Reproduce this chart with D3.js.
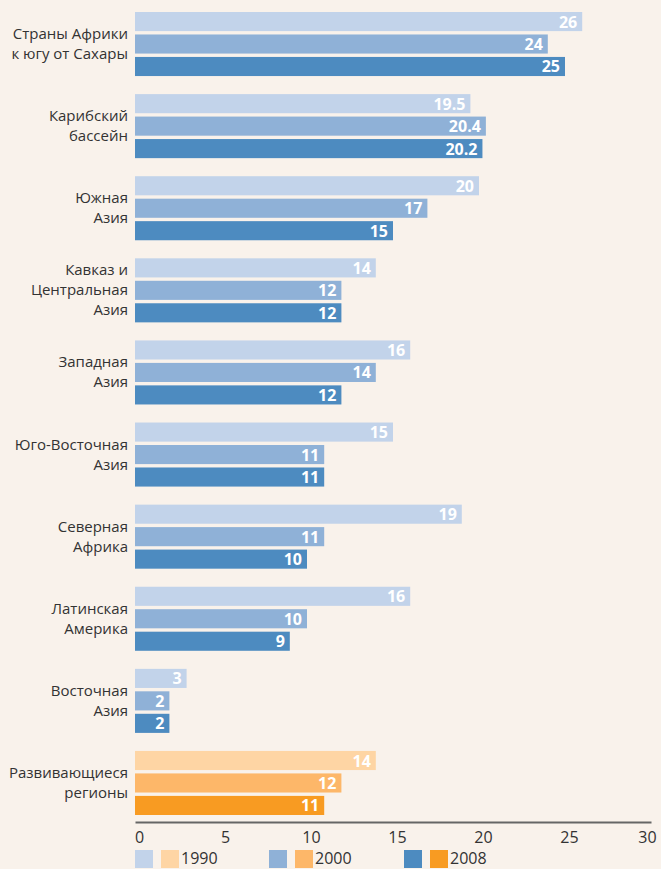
<!DOCTYPE html>
<html>
<head>
<meta charset="utf-8">
<script src="https://cdn.jsdelivr.net/npm/d3@7"></script>
<style>
  body { margin: 0; background: #f9f2eb; }
  svg { display: block; }
</style>
</head>
<body>
<svg id="chart" width="661" height="869"></svg>
<script>
// data
var regions = ["Страны Африки\nк югу от Сахары", "Карибский\nбассейн", "Южная\nАзия",
    "Кавказ и\nЦентральная\nАзия", "Западная\nАзия", "Юго-Восточная\nАзия", "Северная\nАфрика",
    "Латинская\nАмерика", "Восточная\nАзия", "Развивающиеся\nрегионы"]
var years = ["1990", "2000", "2008"]
var v1990 = [26, 19.5, 20, 14, 16, 15, 19, 16, 3, 14]
var v2000 = [24, 20.4, 17, 12, 14, 11, 11, 10, 2, 12]
var v2008 = [25, 20.2, 15, 12, 12, 11, 10, 9, 2, 11]
var xTicks = [0, 5, 10, 15, 20, 25, 30]

var blues = ["#c2d3ea", "#8fb1d7", "#4d8bc0"]
var oranges = ["#fed5a4", "#fdb769", "#f89b22"]

var svg = d3.select("#chart")

var x = d3.scaleLinear().domain([0, 30]).range([135, 651])

var y = d3.scaleBand()
    .domain(d3.range(regions.length))
    .range([12, 815])
    .paddingInner(0.22)
    .paddingOuter(0)

var yInner = d3.scaleBand()
    .domain(years)
    .range([0, y.bandwidth()])
    .paddingInner(0.15)

var rows = regions.map(function(r, i) {
    return {name: r, i: i, values: [v1990[i], v2000[i], v2008[i]]}
})

var groups = svg.selectAll("g.grp").data(rows).join("g")
    .attr("class", "grp")
    .attr("transform", function(d) { return "translate(0," + y(d.i) + ")" })

// bars
groups.selectAll("rect").data(function(d) {
        return d.values.map(function(v, k) { return {v: v, k: k, last: d.i === regions.length - 1} })
    }).join("rect")
    .attr("x", x(0))
    .attr("y", function(d) { return yInner(years[d.k]) })
    .attr("width", function(d) { return x(d.v) - x(0) })
    .attr("height", yInner.bandwidth())
    .attr("fill", function(d) { return d.last ? oranges[d.k] : blues[d.k] })

// value labels
groups.selectAll("text.val").data(function(d) {
        return d.values.map(function(v, k) { return {v: v, k: k} })
    }).join("text")
    .attr("class", "val")
    .attr("x", function(d) { return x(d.v) - 5 })
    .attr("y", function(d) { return yInner(years[d.k]) + yInner.bandwidth() / 2 + 6 })
    .attr("text-anchor", "end")
    .attr("fill", "#fff")
    .style("font-family", "'Open Sans', sans-serif")
    .style("font-weight", "bold")
    .style("font-size", "16px")
    .text(function(d) { return d.v })

// category labels, centered on the group
var lineH = 20
groups.append("text")
    .attr("text-anchor", "end")
    .attr("fill", "#333")
    .style("font-family", "'Open Sans', sans-serif")
    .style("font-size", "15px")
    .each(function(d) {
        var lines = d.name.split("\n")
        var t = d3.select(this)
        lines.forEach(function(l, j) {
            t.append("tspan")
                .attr("x", 128)
                .attr("y", y.bandwidth() / 2 + (j - (lines.length - 1) / 2) * lineH + 5)
                .text(l)
        })
    })

// x axis
var axis = svg.append("g")
    .attr("transform", "translate(0,822)")
    .call(d3.axisBottom(x).tickValues(xTicks).tickSize(0).tickPadding(10))
axis.select(".domain").attr("stroke", "#666").attr("stroke-width", 2)
axis.selectAll("text")
    .attr("dx", function(d) { return d === 30 ? -4 : 4 })
    .attr("fill", "#333")
    .style("font-family", "'Open Sans', sans-serif")
    .style("font-size", "16px")

// legend
var legendX = [135, 269, 404]
var leg = svg.selectAll("g.leg").data(years).join("g")
    .attr("class", "leg")
    .attr("transform", function(d, i) { return "translate(" + legendX[i] + ",850)" })
leg.append("rect").attr("width", 18).attr("height", 18)
    .attr("fill", function(d, i) { return blues[i] })
leg.append("rect").attr("x", 26).attr("width", 18).attr("height", 18)
    .attr("fill", function(d, i) { return oranges[i] })
leg.append("text")
    .attr("x", 46)
    .attr("y", 14)
    .attr("fill", "#333")
    .style("font-family", "'Open Sans', sans-serif")
    .style("font-size", "16px")
    .text(function(d) { return d })
</script>
</body>
</html>
